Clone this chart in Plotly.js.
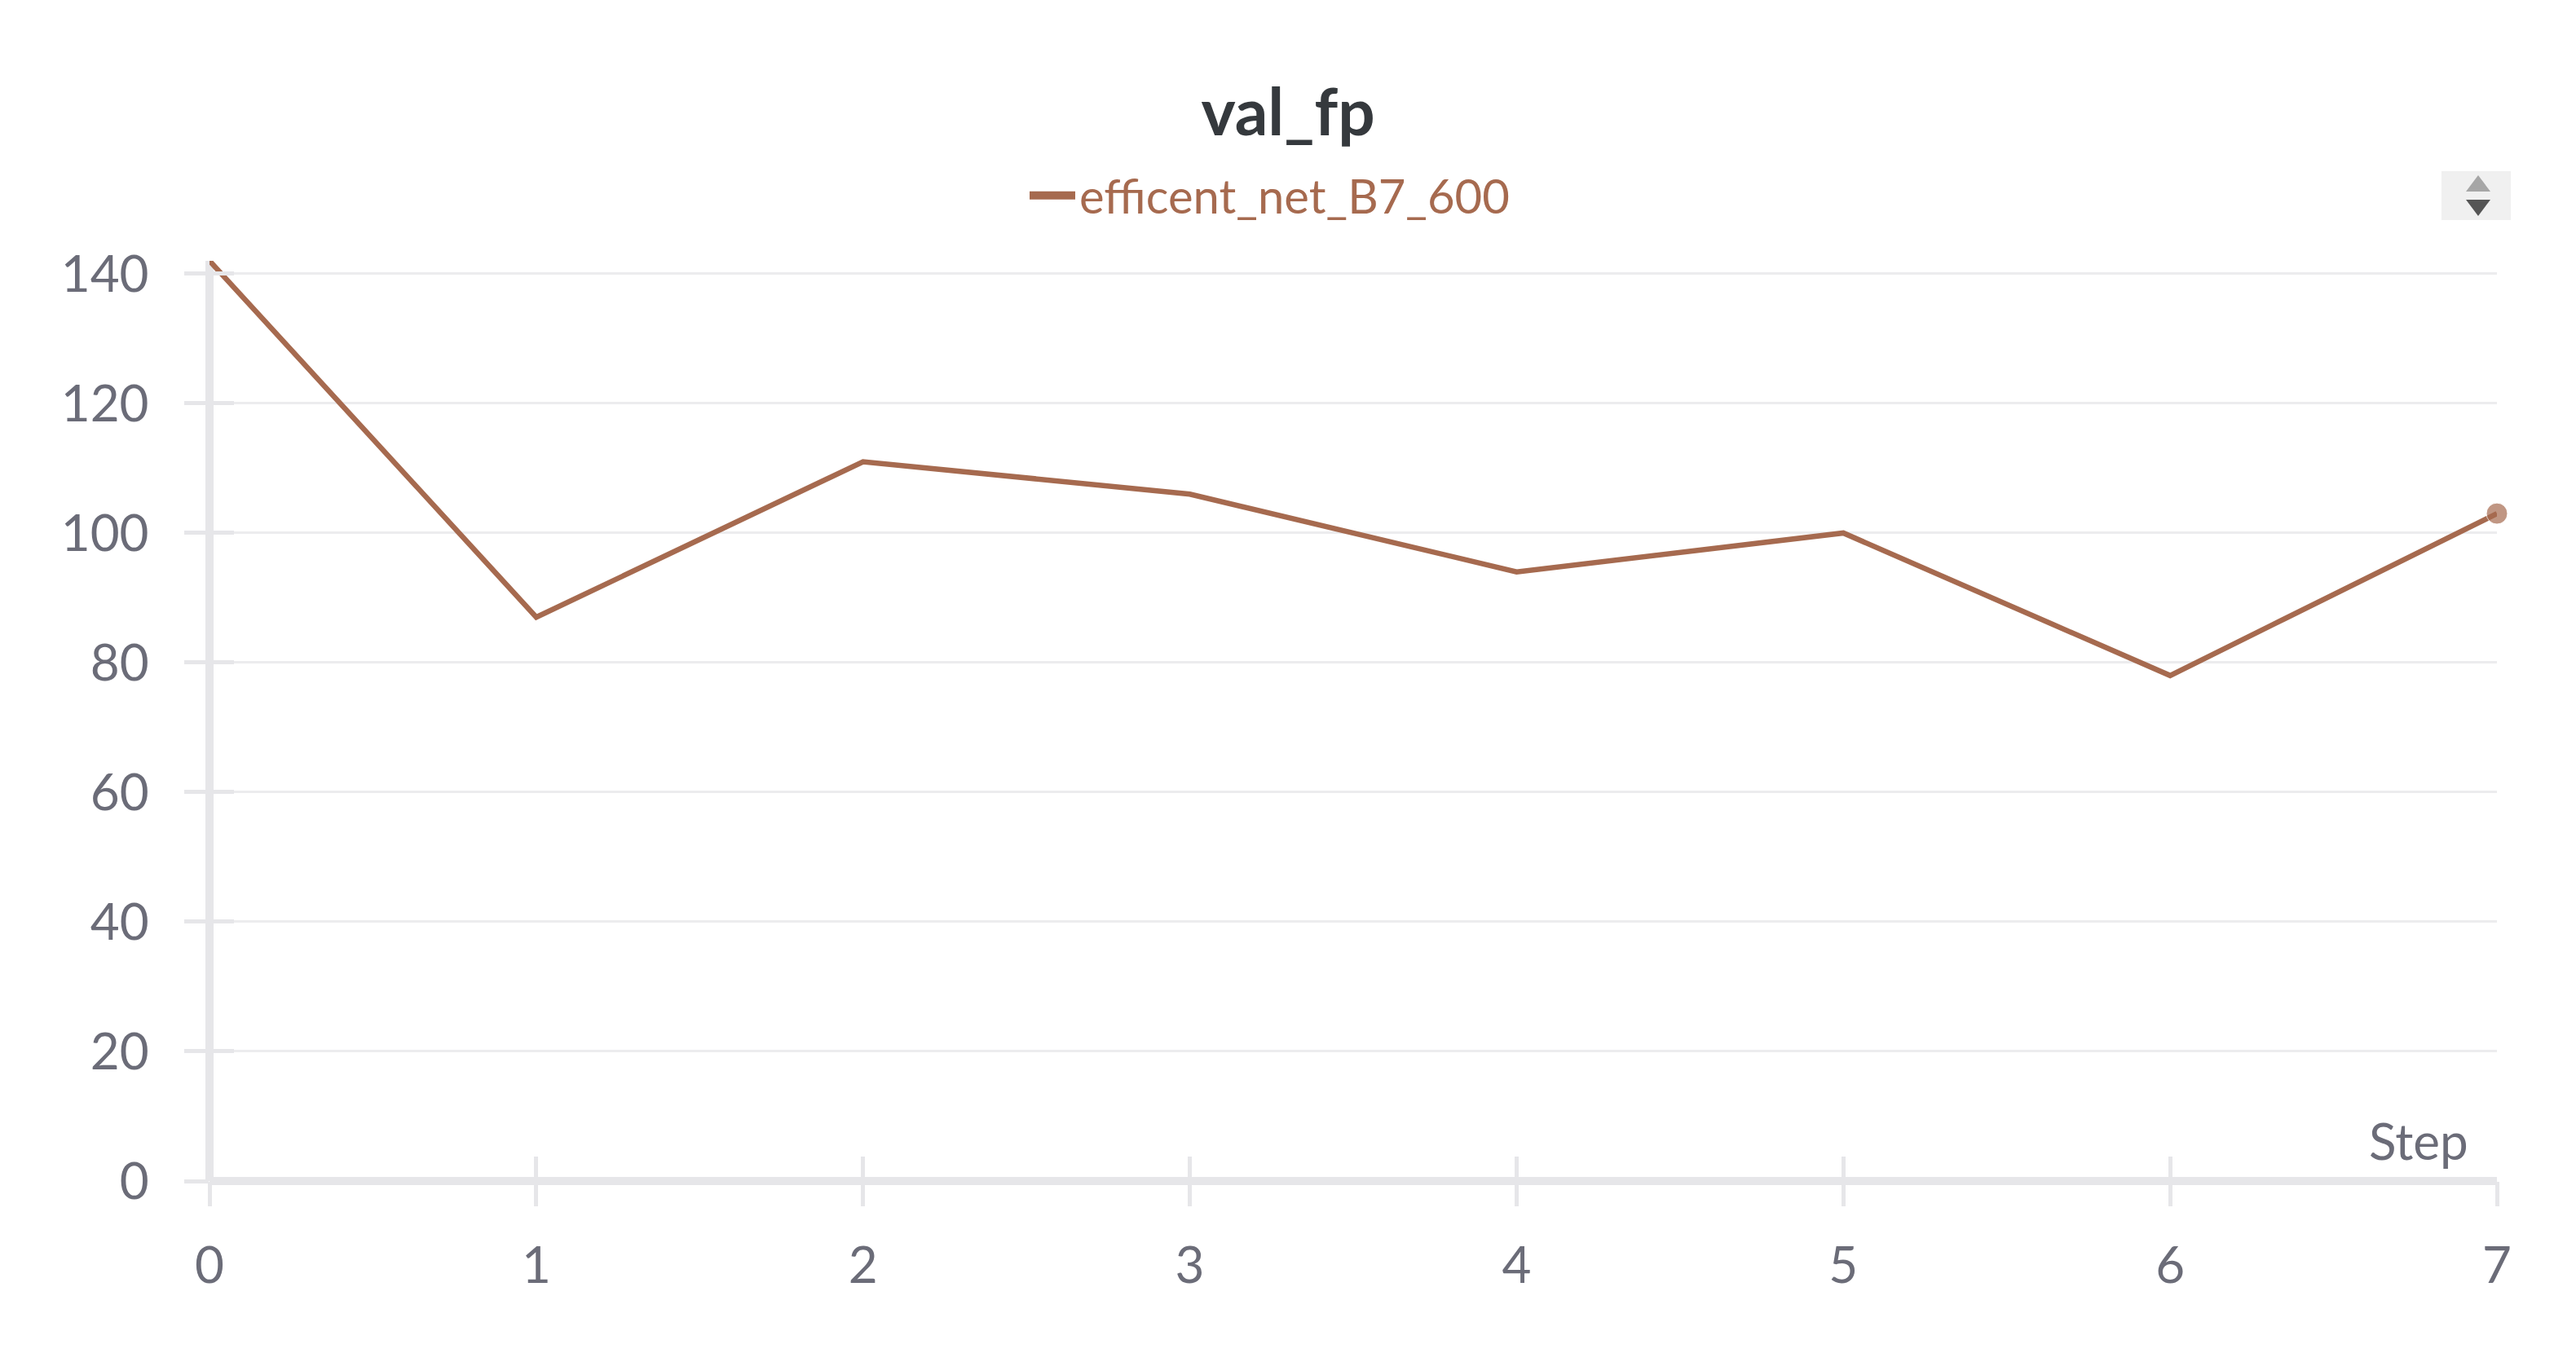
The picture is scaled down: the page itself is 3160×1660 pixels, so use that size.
<!DOCTYPE html>
<html>
<head>
<meta charset="utf-8">
<script src="https://cdn.plot.ly/plotly-3.0.1.min.js"></script>
<style>
  html, body { margin: 0; padding: 0; background: #ffffff; }
  #chart { width: 3160px; height: 1660px; }
</style>
</head>
<body>
<div id="chart"></div>
<script>
// ---- data ----
const chartTitle = 'val_fp';
const seriesName = 'efficent_net_B7_600';
const xAxisLabel = 'Step';
const steps = [0, 1, 2, 3, 4, 5, 6, 7];
const fpValues = [142, 87, 111, 106, 94, 100, 78, 103];
const yTickValues = [0, 20, 40, 60, 80, 100, 120, 140];
const xTickValues = [0, 1, 2, 3, 4, 5, 6, 7];

// ---- style ----
const W = 3160, H = 1660;
const M = { l: 257, r: 97, t: 320, b: 211 };
const PW = W - M.l - M.r, PH = H - M.t - M.b;
const px2x = p => (p - M.l) / PW;
const px2y = p => (H - M.b - p) / PH;

const lineColor = '#a66a4f';
const axisColor = '#e6e6e9';
const gridColor = '#ececee';
const tickFontColor = '#6b6c78';
const FONT = 'Lato, "Source Sans Pro", "Open Sans", sans-serif';

const xRange = [0, 7];
const yRange = [0, 142];

const markerSizes = fpValues.map((v, i) => (i === fpValues.length - 1 ? 26 : 0));

const traces = [
  {
    x: steps, y: fpValues, name: seriesName, type: 'scatter', mode: 'lines+markers',
    line: { color: lineColor, width: 6.5 },
    marker: { color: lineColor, size: markerSizes },
    cliponaxis: false,
    showlegend: false
  },
  {
    // legend entry only (same series, thicker swatch as in the reference legend)
    x: [null], y: [null], name: seriesName, type: 'scatter', mode: 'lines',
    line: { color: lineColor, width: 10 },
    showlegend: true, hoverinfo: 'skip'
  },
  {
    x: steps, y: fpValues, xaxis: 'x2', yaxis: 'y2', type: 'scatter', mode: 'lines',
    line: { color: 'rgba(0,0,0,0)', width: 0 }, opacity: 0, showlegend: false, hoverinfo: 'skip'
  }
];

const tickFont = { family: FONT, size: 62, color: tickFontColor };

const layout = {
  width: W, height: H,
  margin: M,
  paper_bgcolor: '#ffffff', plot_bgcolor: '#ffffff',
  font: { family: FONT },
  title: {
    text: '<b>' + chartTitle + '</b>',
    font: { family: FONT, size: 80, color: '#35393d' },
    x: 0.5, xref: 'container', xanchor: 'center',
    y: 1 - 138 / H, yref: 'container', yanchor: 'middle'
  },
  showlegend: true,
  legend: {
    orientation: 'h',
    x: px2x(1258), xanchor: 'left',
    y: px2y(240), yanchor: 'middle',
    font: { family: FONT, size: 58, color: lineColor },
    bgcolor: 'rgba(0,0,0,0)',
    itemwidth: 56
  },
  xaxis: {
    range: xRange, tickvals: xTickValues, ticktext: xTickValues.map(String),
    showgrid: false, showline: false,
    zeroline: true, zerolinecolor: axisColor, zerolinewidth: 10,
    ticks: 'outside', ticklen: 30, tickwidth: 5, tickcolor: axisColor,
    tickfont: tickFont, ticklabelstandoff: 20,
    fixedrange: true
  },
  yaxis: {
    range: yRange, tickvals: yTickValues, ticktext: yTickValues.map(String),
    showgrid: true, gridcolor: gridColor, gridwidth: 3,
    showline: false,
    zeroline: true, zerolinecolor: axisColor, zerolinewidth: 10,
    ticks: 'outside', ticklen: 30, tickwidth: 5, tickcolor: axisColor,
    tickfont: tickFont, ticklabelstandoff: 31,
    fixedrange: true
  },
  xaxis2: {
    overlaying: 'x', anchor: 'y2', side: 'bottom',
    range: xRange, tickvals: xTickValues,
    showgrid: false, showline: false, zeroline: false, showticklabels: false,
    ticks: 'inside', ticklen: 30, tickwidth: 5, tickcolor: axisColor, fixedrange: true
  },
  yaxis2: {
    overlaying: 'y', anchor: 'x2', side: 'left',
    range: yRange, tickvals: yTickValues,
    showgrid: false, showline: false, zeroline: false, showticklabels: false,
    ticks: 'inside', ticklen: 30, tickwidth: 5, tickcolor: axisColor, fixedrange: true
  },
  annotations: [
    {
      text: xAxisLabel, xref: 'paper', yref: 'paper',
      x: px2x(3030), xanchor: 'right', y: px2y(1399), yanchor: 'middle',
      showarrow: false, font: { family: FONT, size: 62, color: tickFontColor }
    }
  ],
  shapes: [
    { type: 'rect', xref: 'paper', yref: 'paper', layer: 'above',
      x0: px2x(2995), x1: px2x(3080), y0: px2y(270), y1: px2y(210),
      fillcolor: '#f0f0f0', line: { width: 0 } },
    { type: 'path', xref: 'paper', yref: 'paper', layer: 'above',
      path: 'M ' + px2x(3025) + ' ' + px2y(235) + ' L ' + px2x(3055) + ' ' + px2y(235) + ' L ' + px2x(3040) + ' ' + px2y(215) + ' Z',
      fillcolor: '#a6a6a6', line: { width: 0 } },
    { type: 'path', xref: 'paper', yref: 'paper', layer: 'above',
      path: 'M ' + px2x(3025) + ' ' + px2y(245) + ' L ' + px2x(3055) + ' ' + px2y(245) + ' L ' + px2x(3040) + ' ' + px2y(265) + ' Z',
      fillcolor: '#555555', line: { width: 0 } }
  ]
};

Plotly.newPlot('chart', traces, layout, { displayModeBar: false, staticPlot: true });
</script>
</body>
</html>
